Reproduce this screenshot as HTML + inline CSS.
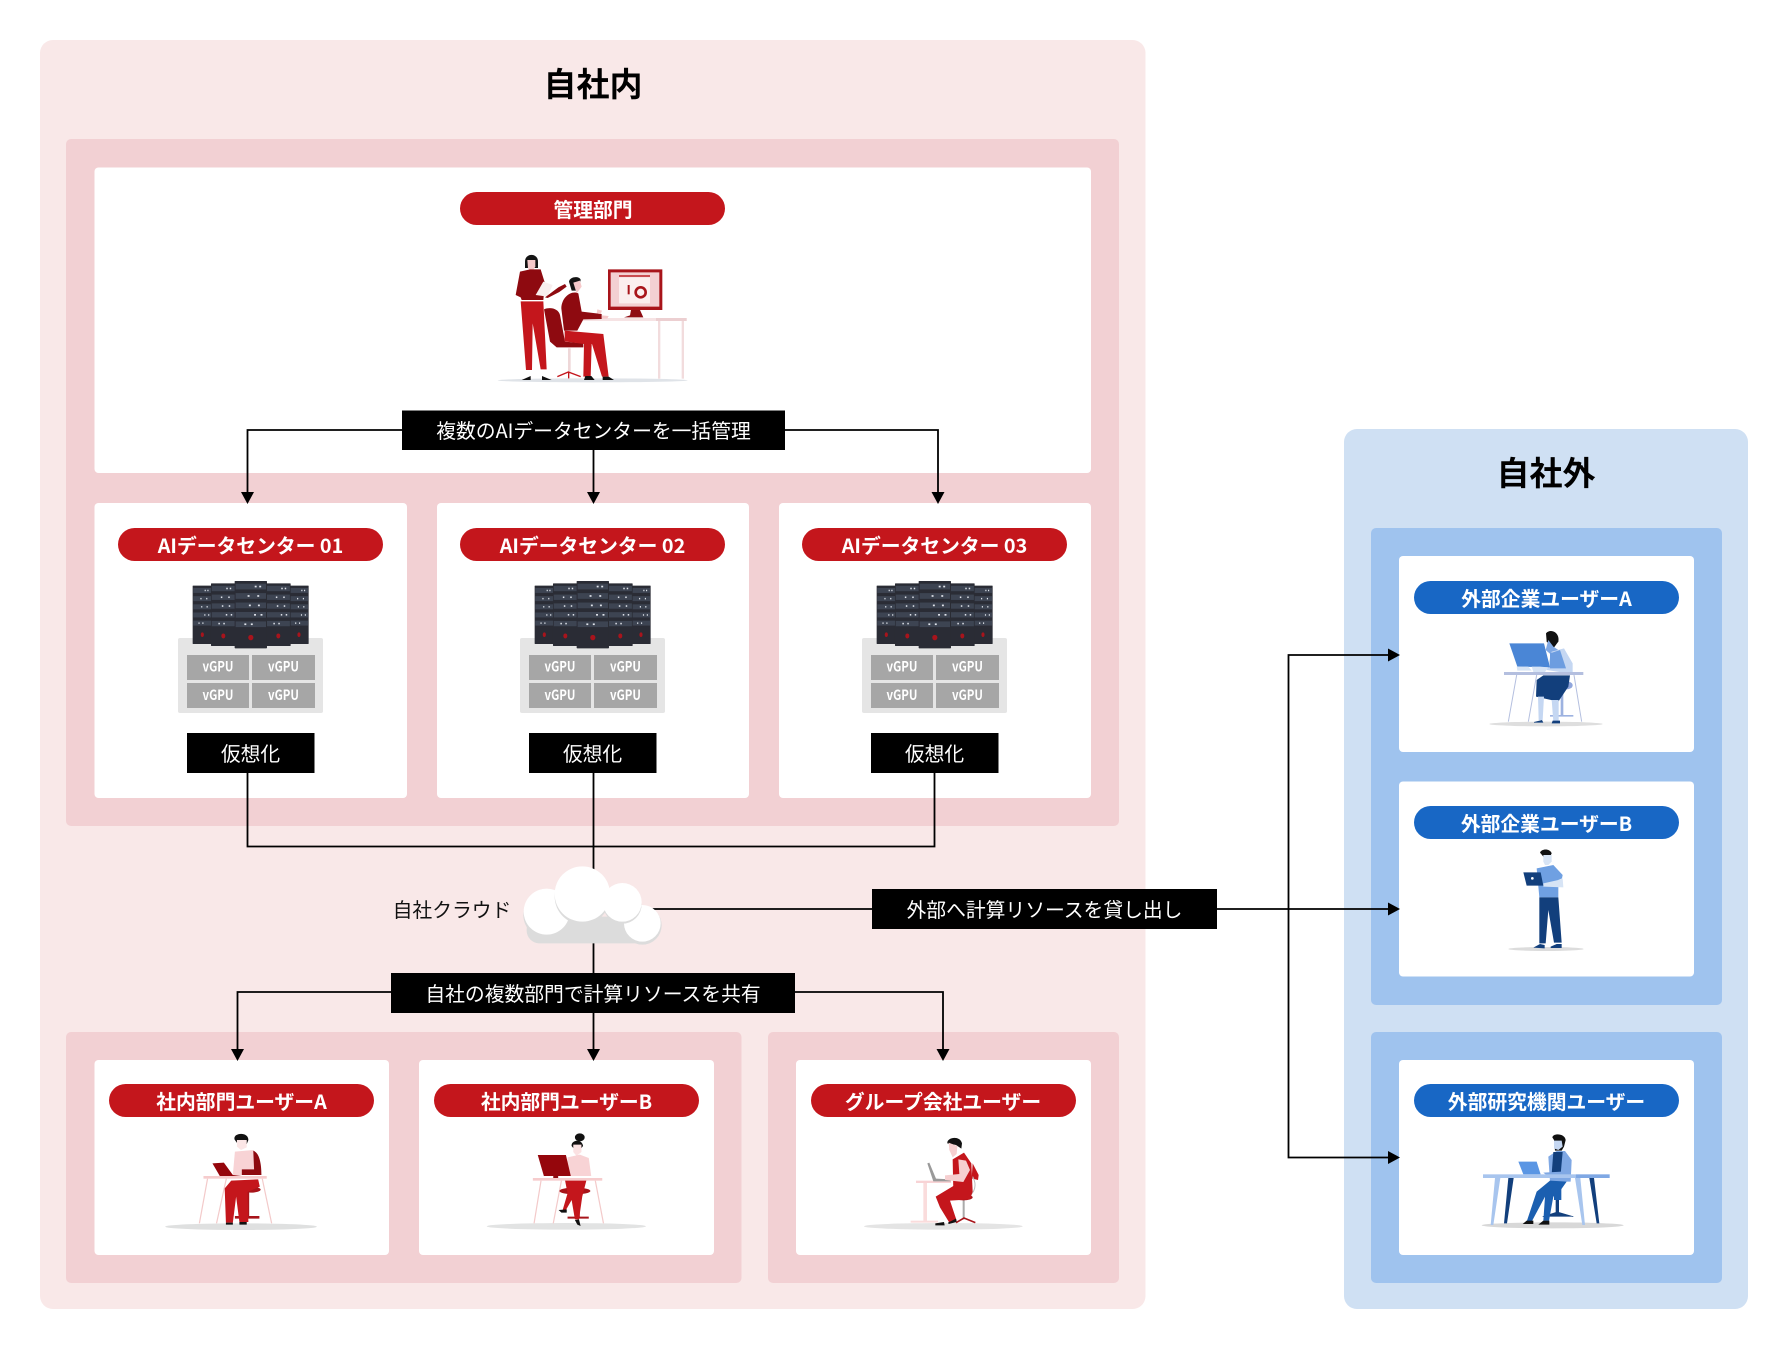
<!DOCTYPE html>
<html lang="ja"><head><meta charset="utf-8">
<style>
html,body{margin:0;padding:0;background:#fff}
svg{display:block}
text{font-family:"Noto Sans CJK JP","Liberation Sans",sans-serif}
.t{font-size:33px;font-weight:700;fill:#000;text-anchor:middle}
.p{font-size:19.800px;font-weight:700;fill:#fff;text-anchor:middle}
.l{font-size:19.800px;fill:#fff;text-anchor:middle}
.g{font-size:14px;font-weight:700;fill:#fff;text-anchor:middle}
.c{fill:none;stroke:#000;stroke-width:1.8}
</style></head><body>
<svg xmlns="http://www.w3.org/2000/svg" width="1788" height="1350" viewBox="0 0 1788 1350">
<defs>
<g id="tower">
<rect width="100" height="200" rx="2" fill="#2a2c35"/>
<rect x="3" y="8" width="94" height="17" fill="#3d4452"/><rect x="3" y="36" width="94" height="17" fill="#3d4452"/><rect x="3" y="64" width="94" height="17" fill="#3d4452"/><rect x="3" y="92" width="94" height="17" fill="#3d4452"/><rect x="3" y="120" width="94" height="17" fill="#3d4452"/>
<rect x="62" y="14" width="6" height="5" fill="#dfe3ea"/><rect x="76" y="14" width="6" height="5" fill="#dfe3ea"/><rect x="40" y="42" width="6" height="5" fill="#dfe3ea"/><rect x="70" y="42" width="6" height="5" fill="#dfe3ea"/><rect x="44" y="70" width="6" height="5" fill="#dfe3ea"/><rect x="72" y="70" width="6" height="5" fill="#dfe3ea"/><rect x="60" y="98" width="6" height="5" fill="#dfe3ea"/><rect x="80" y="98" width="6" height="5" fill="#dfe3ea"/><rect x="30" y="126" width="6" height="5" fill="#dfe3ea"/><rect x="50" y="126" width="6" height="5" fill="#dfe3ea"/>
<ellipse cx="50" cy="168" rx="8" ry="8" fill="#a8141c"/>
</g>
<g id="dc">
<rect x="178" y="638" width="145" height="75" rx="2" fill="#e5e5e5"/>
<g transform="translate(80 500) scale(.3333)">
<use href="#tower" transform="translate(338 257) scale(.58 .875)"/>
<use href="#tower" transform="translate(628 257) scale(.58 .875)"/>
<use href="#tower" transform="translate(393 250) scale(.74 .94)"/>
<use href="#tower" transform="translate(558 250) scale(.74 .94)"/>
<use href="#tower" transform="translate(464 243) scale(.97 1.01)"/>
</g>
<rect x="187" y="655" width="62" height="25" fill="#a6a6a6"/><rect x="252" y="655" width="63" height="25" fill="#a6a6a6"/>
<rect x="187" y="683" width="62" height="25" fill="#a6a6a6"/><rect x="252" y="683" width="63" height="25" fill="#a6a6a6"/>
<text class="g" x="218" y="671.500" textLength="31" lengthAdjust="spacingAndGlyphs">vGPU</text>
<text class="g" x="283.500" y="671.500" textLength="31" lengthAdjust="spacingAndGlyphs">vGPU</text>
<text class="g" x="218" y="700" textLength="31" lengthAdjust="spacingAndGlyphs">vGPU</text>
<text class="g" x="283.500" y="700" textLength="31" lengthAdjust="spacingAndGlyphs">vGPU</text>
</g>
</defs>

<!-- panels -->
<rect x="40" y="40" width="1105.500" height="1269" rx="13" fill="#f9e8e8"/>
<rect x="66" y="139" width="1053" height="687" rx="5" fill="#f2d0d3"/>
<rect x="66" y="1032" width="675.500" height="251" rx="5" fill="#f2d0d3"/>
<rect x="768" y="1032" width="351" height="251" rx="5" fill="#f2d0d3"/>
<rect x="1344" y="429" width="404" height="880" rx="13" fill="#cfe0f3"/>
<rect x="1371" y="528" width="351" height="477" rx="5" fill="#9fc3ee"/>
<rect x="1371" y="1032" width="351" height="251" rx="5" fill="#9fc3ee"/>

<!-- cards -->
<g fill="#fff">
<rect x="94.500" y="167.500" width="996.500" height="305.500" rx="4"/>
<rect x="94.500" y="503" width="312.500" height="295" rx="4"/>
<rect x="437" y="503" width="312" height="295" rx="4"/>
<rect x="779" y="503" width="312" height="295" rx="4"/>
<rect x="94.500" y="1060" width="294.500" height="195" rx="4"/>
<rect x="419" y="1060" width="295" height="195" rx="4"/>
<rect x="796" y="1060" width="295" height="195" rx="4"/>
<rect x="1399" y="556" width="295" height="196" rx="4"/>
<rect x="1399" y="781.500" width="295" height="195" rx="4"/>
<rect x="1399" y="1060" width="295" height="195" rx="4"/>
</g>

<text class="t" x="593" y="96">自社内</text>
<text class="t" x="1546" y="485">自社外</text>

<!-- pills -->
<g fill="#c4161c">
<rect x="460" y="192" width="265" height="33" rx="16.500"/>
<rect x="118" y="528" width="265" height="33" rx="16.500"/>
<rect x="460" y="528" width="265" height="33" rx="16.500"/>
<rect x="802" y="528" width="265" height="33" rx="16.500"/>
<rect x="109" y="1084" width="265" height="33" rx="16.500"/>
<rect x="434" y="1084" width="265" height="33" rx="16.500"/>
<rect x="811" y="1084" width="265" height="33" rx="16.500"/>
</g>
<g fill="#1867c5">
<rect x="1414" y="581" width="265" height="33" rx="16.500"/>
<rect x="1414" y="806" width="265" height="33" rx="16.500"/>
<rect x="1414" y="1084" width="265" height="33" rx="16.500"/>
</g>
<text class="p" x="593" y="217">管理部門</text>
<text class="p" x="250.500" y="553">AIデータセンター 01</text>
<text class="p" x="592.500" y="553">AIデータセンター 02</text>
<text class="p" x="934.500" y="553">AIデータセンター 03</text>
<text class="p" x="241.500" y="1109">社内部門ユーザーA</text>
<text class="p" x="566.500" y="1109">社内部門ユーザーB</text>
<text class="p" x="943" y="1109">グループ会社ユーザー</text>
<text class="p" x="1546.500" y="606">外部企業ユーザーA</text>
<text class="p" x="1546.500" y="831">外部企業ユーザーB</text>
<text class="p" x="1546.500" y="1109">外部研究機関ユーザー</text>

<!-- data centres -->
<use href="#dc"/>
<use href="#dc" transform="translate(342 0)"/>
<use href="#dc" transform="translate(684 0)"/>

<!-- connectors -->
<path class="c" d="M402 430H247.500V493M785 430H938V493M593.500 450V493"/>
<path class="c" d="M247.500 773V846.500H934.500V773M593.500 773V973"/>
<path class="c" d="M593.500 1013V1050M391 992H237.500V1050M795 992H943V1050"/>
<path class="c" d="M652 909H1389M1288.500 909V655H1389M1288.500 909V1157.500H1389"/>
<g fill="#000">
<path d="M241 492H254L247.500 504Z"/><path d="M587 492H600L593.500 504Z"/><path d="M931.500 492H944.500L938 504Z"/>
<path d="M231 1049H244L237.500 1061Z"/><path d="M587 1049H600L593.500 1061Z"/><path d="M936.500 1049H949.500L943 1061Z"/>
<path d="M1388 648.500V661.500L1400 655Z"/><path d="M1388 902.500V915.500L1400 909Z"/><path d="M1388 1151V1164L1400 1157.500Z"/>
</g>

<!-- black labels -->
<g fill="#000">
<rect x="402" y="410.500" width="383" height="39.500"/>
<rect x="187" y="733" width="127.500" height="40"/>
<rect x="529" y="733" width="127.500" height="40"/>
<rect x="871" y="733" width="127.500" height="40"/>
<rect x="391" y="973" width="404" height="40"/>
<rect x="872" y="889" width="345" height="40"/>
</g>
<text class="l" x="593.500" y="438">複数のAIデータセンターを一括管理</text>
<text class="l" x="250.500" y="761">仮想化</text>
<text class="l" x="592.500" y="761">仮想化</text>
<text class="l" x="934.500" y="761">仮想化</text>
<text class="l" x="593" y="1001">自社の複数部門で計算リソースを共有</text>
<text class="l" x="1044.500" y="917">外部へ計算リソースを貸し出し</text>
<text x="452" y="917" font-size="19.800" fill="#111" text-anchor="middle">自社クラウド</text>

<!-- cloud -->
<svg x="370" y="840" width="480" height="220" viewBox="0 0 1440 660">
<circle cx="817" cy="256" r="58" fill="#dcdcdc"/>
<circle cx="530" cy="225" r="70" fill="#dcdcdc"/>
<rect x="470" y="230" width="360" height="80" rx="38" fill="#dcdcdc"/>
<circle cx="817" cy="250" r="55" fill="#fff"/>
<circle cx="530" cy="215" r="69" fill="#fff"/>
<circle cx="637" cy="170" r="83" fill="#dcdcdc"/>
<circle cx="757" cy="193" r="58" fill="#dcdcdc"/>
<circle cx="637" cy="162" r="83" fill="#fff"/>
<circle cx="757" cy="187" r="58" fill="#fff"/>
</svg>

<!-- admin illustration -->
<svg x="470" y="240" width="240" height="160" viewBox="0 0 720 480">
<ellipse cx="368" cy="421" rx="285" ry="6" fill="#dfe3e8"/>
<rect x="330" y="234" width="320" height="9" fill="#f6e3e4"/><rect x="558" y="234" width="92" height="9" fill="#eccfd1"/>
<rect x="564" y="243" width="7" height="173" fill="#f2dcdd"/><rect x="635" y="243" width="7" height="173" fill="#f2dcdd"/>
<path d="M414 88H577V210H414Z" fill="#a8141a"/><path d="M422 97H568V200H422Z" fill="#f3d0d2"/><path d="M447 112H540V190H447Z" fill="#fbeeee"/>
<rect x="447" y="105" width="93" height="6" fill="#c94b50"/>
<circle cx="512" cy="157" r="15" fill="none" stroke="#a8141a" stroke-width="8"/>
<rect x="473" y="135" width="6" height="28" fill="#a8141a"/>
<path d="M483 210H510L520 232H462L480 226Z" fill="#8f0d13"/>
<path d="M165 65C165 38 204 38 204 65V84H165Z" fill="#141414"/>
<path d="M172 60H196V80L184 100L174 84Z" fill="#f6c9ca"/>
<path d="M137 165L150 95L180 88L212 88L225 130L220 180H155L152 172Z" fill="#8e0a10"/>
<path d="M197 165L220 125L248 135L232 170Z" fill="#f8eeee"/>
<path d="M225 172L265 142L285 132L290 140L268 156L233 174Z" fill="#8e0a10"/>
<path d="M152 184H220L230 388H212L188 250L186 390H168Z" fill="#c4161c"/>
<path d="M155 420L182 408V420ZM216 408L245 420H216Z" fill="#111"/>
<path d="M222 208C240 200 265 205 270 225L285 305L340 310V322L260 322L240 305Z" fill="#8e0a10"/>
<path d="M294 325H302V395H294Z" fill="#eed7d8"/>
<path d="M262 410L295 396L332 410M296 396V415" fill="none" stroke="#c4161c" stroke-width="4"/>
<path d="M297 125C300 108 330 108 332 120L324 152H305Z" fill="#141414"/>
<path d="M310 128L330 122L335 140L320 160Z" fill="#f6c9ca"/>
<path d="M274 205C275 170 305 150 325 160L335 215L395 222V237L340 238L322 272H282Z" fill="#8e0a10"/>
<path d="M382 208L396 212L392 222L380 220ZM396 226L416 228L412 236H396Z" fill="#f6c9ca"/>
<path d="M284 272L400 282L416 410H396L366 312H365L362 410H340L342 312L284 304Z" fill="#c4161c"/>
<path d="M342 420L346 408H364L374 420ZM398 410H416L432 420H398Z" fill="#111"/>
</svg>

<!-- internal users A/B -->
<svg x="90" y="1060" width="640" height="210" viewBox="0 0 1568 630" preserveAspectRatio="none">
<ellipse cx="370" cy="500" rx="186" ry="10" fill="#dfe0e0"/>
<g stroke="#f3caca" stroke-width="3" fill="none"><path d="M288 356L268 490M334 356L310 490M422 356L445 490"/></g>
<path d="M355 468H415V476H355Z" fill="#a8141a"/><path d="M382 395H390V468H382Z" fill="#a8141a"/>
<ellipse cx="394" cy="389" rx="24" ry="9" fill="#a8141a"/>
<path d="M355 275L400 270L412 345H350Z" fill="#f8d3d5"/>
<path d="M400 272C415 278 420 310 420 345H372V328H402Z" fill="#8e0a10"/>
<path d="M354 238C350 218 388 214 388 240L384 252H362Z" fill="#111"/><path d="M360 240L384 240L384 262L370 270L360 260Z" fill="#fbe6e6"/>
<path d="M300 310L328 308L350 345L372 348H318Z" fill="#95060c"/>
<rect x="278" y="348" width="155" height="8" fill="#f6cccd"/>
<path d="M346 362L412 358L416 380L386 396L388 486H366L358 410L350 488H333L330 385Z" fill="#c4161c"/>
<path d="M333 488H350V494H333ZM366 486H384V494H366Z" fill="#111"/>

<ellipse cx="1167" cy="499" rx="195" ry="10" fill="#e2e3e3"/>
<g stroke="#f3caca" stroke-width="3" fill="none"><path d="M1105 362L1088 490M1155 362L1135 490M1238 362L1258 490"/></g>
<circle cx="1200" cy="232" r="12" fill="#111"/><path d="M1180 258C1178 240 1205 234 1208 258L1204 264H1184Z" fill="#111"/>
<path d="M1184 254H1204V276L1192 288L1184 276Z" fill="#fbe1e2"/>
<path d="M1170 292L1200 284L1222 294L1228 348H1168Z" fill="#f8d3d5"/>
<path d="M1097 285H1166L1178 348H1112Z" fill="#95060c"/><rect x="1135" y="348" width="12" height="7" fill="#8e0a10"/>
<rect x="1085" y="354" width="170" height="8" fill="#f6cccd"/>
<path d="M1170 470H1222V476H1170ZM1192 400H1200V472H1192Z" fill="#a8141a"/>
<ellipse cx="1188" cy="393" rx="38" ry="10" fill="#a8141a"/>
<path d="M1164 362H1216L1206 410L1198 478L1188 478L1180 420L1166 450H1158L1170 400Z" fill="#c4161c"/>
<path d="M1148 450L1168 448V458L1155 458ZM1188 480L1198 478L1202 498L1194 494Z" fill="#111"/>
</svg>

<!-- group user -->
<svg x="790" y="1060" width="320" height="210" viewBox="0 0 960 630">
<ellipse cx="460" cy="499" rx="238" ry="10" fill="#e4e4e4"/>
<rect x="400" y="368" width="11" height="116" fill="#fadcdc"/><rect x="362" y="482" width="82" height="6" fill="#fadcdc"/>
<rect x="378" y="362" width="105" height="7" fill="#f8d3d5"/>
<path d="M412 310L418 308L438 356L482 358V364L430 364Z" fill="#9a9a9a"/>
<path d="M548 310L566 345L564 360L545 355Z" fill="#c4161c"/>
<path d="M548 350C564 380 552 400 530 415" fill="none" stroke="#bbb" stroke-width="3"/>
<rect x="518" y="418" width="6" height="60" fill="#aaa"/>
<path d="M498 488L522 474L556 488" fill="none" stroke="#a8141a" stroke-width="5"/>
<ellipse cx="520" cy="412" rx="28" ry="9" fill="#a8141a"/>
<path d="M488 298L522 278L544 310L548 395L490 395Z" fill="#c4161c"/>
<path d="M505 298L528 302L540 330L520 366L465 360V346L508 342Z" fill="#f6cfd0"/>
<path d="M472 250C470 232 510 225 516 250L514 266L498 255Z" fill="#111"/>
<path d="M476 248L502 258L500 282L488 292L478 270Z" fill="#f6cfd0"/>
<path d="M490 378L548 395L540 418L480 422L500 482L478 488L450 442L437 410Z" fill="#c4161c"/>
<path d="M436 490L462 486L464 496H436ZM474 488L498 476L500 486L476 492Z" fill="#111"/>
</svg>

<!-- external users A / B -->
<svg x="1380" y="550" width="340" height="420" viewBox="0 0 1020 1260">
<ellipse cx="498" cy="522" rx="170" ry="7" fill="#dedede"/>
<g stroke="#b4bfdf" stroke-width="3" fill="none"><path d="M410 375L385 515M470 375L445 515M582 375L605 515"/></g>
<path d="M510 495H580V500H510ZM542 410H550V496H542Z" fill="#9db2e0"/>
<ellipse cx="560" cy="406" rx="18" ry="12" fill="#8fa5dc"/>
<path d="M498 250C510 235 540 245 535 275L520 295L500 275Z" fill="#111"/>
<path d="M505 270L520 290L535 300L520 320L497 300Z" fill="#7fa8e4"/>
<path d="M515 305L552 295L578 340L578 372L500 360Z" fill="#c5d7f2"/><path d="M510 310L540 300L558 355L510 355Z" fill="#6d9de0"/>
<path d="M388 280H492L510 352L412 350Z" fill="#4a86d6"/>
<path d="M410 350H445L455 362H412ZM455 350H480L505 352L495 366H460Z" fill="#d7e4f5"/>
<rect x="372" y="366" width="238" height="9" fill="#b4bfdf"/>
<path d="M470 390L490 376H570L565 410L535 455L468 440Z" fill="#123f7c"/>
<path d="M474 440H492L488 510H476ZM515 450H536L536 514H520Z" fill="#c5d7f2"/>
<path d="M462 516L486 510L490 518H462ZM515 520L518 512H540V520Z" fill="#123f7c"/>

<ellipse cx="498" cy="1197" rx="113" ry="6" fill="#dcdcdc"/>
<path d="M480 908C485 895 510 895 515 910L510 920H490Z" fill="#111"/>
<path d="M490 915H515V935L505 945H495L490 935Z" fill="#d7e4f5"/>
<path d="M470 955L520 945L548 975L546 985L535 990L535 1042H478Z" fill="#6fa0e2"/>
<path d="M490 1000L535 990L548 985L550 1012L490 1010Z" fill="#d7e4f5"/>
<path d="M430 967H482L490 1007H440Z" fill="#123f7c"/><circle cx="457" cy="985" r="4" fill="#fff"/>
<path d="M478 1042H535L545 1178H522L505 1080L497 1180H478Z" fill="#123f7c"/>
<path d="M460 1193L480 1182L494 1185V1195ZM512 1190L530 1182H545V1194H512Z" fill="#123f7c"/>
</svg>

<!-- external research user -->
<svg x="1380" y="1050" width="340" height="220" viewBox="0 0 1020 660">
<ellipse cx="518" cy="526" rx="213" ry="9" fill="#d8d8d8"/>
<path d="M385 384H401L381 520H372ZM628 384H642L658 520H650Z" fill="#123f7c"/>
<path d="M528 450H536V495H528ZM488 500L532 486L580 500" fill="#123f7c" stroke="#123f7c" stroke-width="2"/>
<rect x="522" y="410" width="22" height="40" fill="#1b5fb0"/>
<path d="M415 335H470L482 373H430Z" fill="#5a96e4"/>
<path d="M517 262C520 248 555 250 557 270L552 290L545 302H525L522 270Z" fill="#111"/>
<path d="M522 272L545 272L548 290L535 300L522 295Z" fill="#c5d7f2"/>
<path d="M505 320L530 303L555 303L575 330L572 395H510Z" fill="#7fa8e4"/>
<path d="M520 306L548 306L542 372H515Z" fill="#123f7c"/>
<path d="M490 368L560 364L565 376H500Z" fill="#7fa8e4"/>
<rect x="309" y="373" width="278" height="11" fill="#a8c5ee"/><rect x="587" y="373" width="102" height="11" fill="#7fa8e4"/>
<path d="M345 384H361L340 525H332ZM585 384H601L615 525H607Z" fill="#a8c5ee"/>
<path d="M510 392L560 395L535 430L520 440L507 512H490L495 440L455 515H440L470 425Z" fill="#1b5fb0"/>
<path d="M428 522L440 512H460V522ZM475 524L490 512H508V524Z" fill="#111"/>
</svg>
</svg>
</body></html>
